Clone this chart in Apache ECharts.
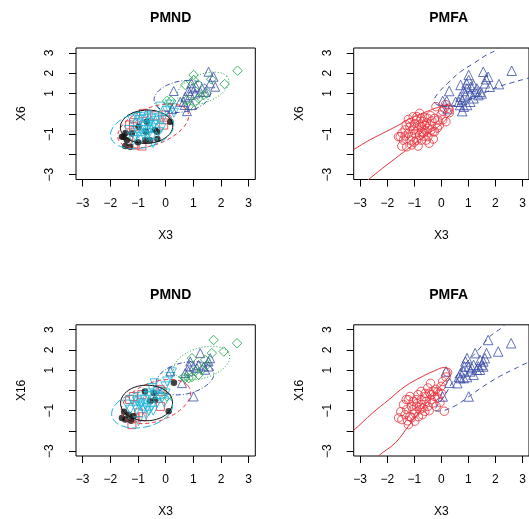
<!DOCTYPE html>
<html><head><meta charset="utf-8">
<script src="https://cdn.jsdelivr.net/npm/echarts@6/dist/echarts.min.js"></script>
<style>html,body{margin:0;padding:0;background:#fff}#c{width:529px;height:519px}</style>
</head><body><div id="c"></div>
<script>
// ---------- tick labels ----------
const tickValues = [-3, -2, -1, 0, 1, 2, 3];
const yLabelValues = [3, 2, 1, -1, -3];
const panelTitles = ['PMND', 'PMFA', 'PMND', 'PMFA'];
const xNames = ['X3', 'X3', 'X3', 'X3'];
const yNames = ['X6', 'X6', 'X16', 'X16'];

// ---------- top row data: X3 vs X6 ----------
const topPts = [
 [-1.22,-0.28],[-0.80,0.02],[-0.50,-0.23],[-0.25,-0.23],[0.05,0.13],[0.11,0.27],[0.25,0.27],[-0.01,-0.06],[0.17,-0.39],[-0.13,-0.31],
 [-0.43,-0.56],[-0.61,-0.80],[-0.38,-0.80],[-0.74,-0.64],[-0.98,-0.64],[-1.16,-0.64],[-1.34,-0.80],[-1.52,-1.13],[-1.40,-1.30],[-1.46,-1.59],
 [-1.28,-1.63],[-1.10,-1.54],[-0.86,-1.59],[-0.74,-1.30],[-0.50,-1.13],[-0.31,-0.89],[-0.98,-0.97],[-1.10,-1.13],[-1.22,-0.97],[-0.86,-0.80],
 [-0.68,-0.39],[-0.92,-0.31],[-1.04,-0.15],[-1.16,-0.44],[-0.61,-0.18],[-0.07,-0.56],[-0.25,-0.89],[-0.56,-1.30],[-0.80,-1.05],[-1.34,-1.10],
 [-1.58,-1.13],[-1.04,-0.80],[-0.80,-0.56],[-0.61,-0.56],[-0.50,-0.72],[-0.98,-0.48],[-0.72,-0.89],[-0.92,-1.30],[-1.16,-1.30],[-0.20,0.35],
 [0.15,0.45],[-0.40,-0.10],[-0.30,-1.25],[-0.65,-1.10],
 [0.29,1.12],[0.05,0.63],[0.20,0.63],[0.23,0.23],[0.71,1.42],[0.83,1.12],[1.01,1.91],[1.01,1.66],[0.95,1.25],[0.89,0.92],
 [0.77,0.68],[0.65,0.59],[0.77,0.13],[1.07,1.00],[1.19,1.42],[1.25,1.08],[1.37,0.92],[1.43,1.08],[1.55,2.07],[1.65,1.70],
 [1.61,1.50],[1.73,1.82],[1.79,1.33],[2.13,1.46],[2.60,2.12],[1.19,0.76],[1.07,0.59],[0.95,0.43],[0.83,0.35],[0.53,0.59],
 [0.71,0.84],[1.31,1.25],[1.49,1.00],[1.09,1.33],[0.93,1.50],[0.69,0.43],
 [-0.90,-0.15],[-0.55,-0.45],[-0.35,-0.35],[-1.30,-0.55],[-1.45,-0.95],[-0.15,-0.70],[0.05,-0.30],[-0.65,-0.95],[-1.00,-1.40],[-0.45,-1.45],
 [-0.75,-0.25],[0.30,0.05]
];
const topND = [
 2,0,2,2,2,2,2,0,1,2, 2,2,1,2,1,0,2,1,1,1, 1,0,0,1,2,1,2,2,1,2, 1,2,2,0,2,0,2,1,2,0, 1,2,0,2,2,2,1,2,2,2, 2,0,1,2,
 3,4,4,3,4,3,4,4,3,3, 4,3,3,3,4,3,4,3,3,4, 3,3,3,4,4,4,4,3,4,3, 3,3,4,3,3,3,
 2,2,2,0,1,2,0,2,1,2, 2,2
];
const topFA = [
 0,0,0,0,0,0,0,0,0,0, 0,0,0,0,0,0,0,0,0,0, 0,0,0,0,0,0,0,0,0,0, 0,0,0,0,0,0,0,0,0,0, 0,0,0,0,0,0,0,0,0,0, 0,0,0,0,
 1,1,1,1,1,1,1,1,1,1, 1,1,1,1,1,1,1,1,1,1, 1,1,1,1,1,1,1,1,1,1, 1,1,1,1,1,1,
 0,0,0,0,0,0,0,0,0,0, 0,0
];

// ---------- bottom row data: X3 vs X16 ----------
const botPts = [
 [-1.58,-1.36],[-1.46,-1.44],[-1.22,-1.69],[-1.16,-1.28],[-0.98,-1.52],[-1.28,-0.95],[-1.22,-0.46],[-1.10,-0.79],[-0.92,-0.46],[-0.86,-0.21],
 [-0.74,-0.46],[-0.61,-0.30],[-0.50,0.12],[-0.43,-0.13],[-0.38,-0.46],[-0.25,-0.30],[-0.13,-0.05],[-0.01,0.20],[0.05,0.44],[0.17,0.66],
 [0.23,0.89],[0.11,-1.03],[-0.80,-0.95],[-0.61,-1.03],[-0.50,-0.79],[-0.98,-1.11],[-1.40,-0.70],[-0.74,-0.70],[-0.92,-0.79],[-0.56,-0.54],
 [-0.31,-0.62],[-0.13,-0.37],[-1.04,-0.54],[-1.16,-0.30],[-0.68,-0.87],[-0.38,-0.21],[-0.19,-0.79],[-1.34,-1.20],[-1.10,-1.36],[-0.75,-0.05],
 [-0.45,-1.00],[-0.85,-1.30],
 [0.17,0.94],[0.30,0.38],[0.05,-0.30],[0.59,0.36],[0.71,0.61],[0.83,0.94],[0.89,1.43],[0.95,1.59],[1.01,1.18],[1.07,0.94],
 [1.19,0.77],[1.25,1.84],[1.37,1.18],[1.49,1.26],[1.55,1.43],[1.61,1.59],[1.67,1.84],[1.73,2.49],[2.10,1.92],[2.58,2.33],
 [1.01,-0.30],[0.83,0.61],[0.95,0.66],[1.13,1.10],[1.31,1.02],[1.43,1.02],[1.55,1.18],[0.85,1.18],[0.71,0.86],[0.65,0.66],
 [1.19,1.26],[1.43,1.51],
 [-0.90,-0.65],[-0.60,-0.15],[-0.30,-0.05],[-1.30,-0.45],[-1.50,-1.05],[-0.20,0.05],[-0.05,-0.60],[-0.70,-1.20],[-1.05,-0.95],[-0.40,0.35],
 [0.00,-0.15],[-1.25,-1.50]
];
const botND = [
 1,1,0,1,2,2,2,2,2,0, 2,2,2,1,1,2,0,2,2,2, 2,1,2,2,2,0,2,2,2,1, 2,2,2,0,2,2,0,1,0,1, 2,0,
 3,1,4,3,4,3,3,4,3,4, 4,3,3,4,3,3,4,4,4,4, 3,4,4,3,4,3,3,3,3,4, 3,4,
 2,2,2,0,1,0,2,2,2,2, 2,1
];
const botFA = [
 0,0,0,0,0,0,0,0,0,0, 0,0,0,0,0,0,0,0,0,0, 0,0,0,0,0,0,0,0,0,0, 0,0,0,0,0,0,0,0,0,0, 0,0,
 1,1,1,1,1,1,1,1,1,1, 1,1,1,1,1,1,1,1,1,1, 1,1,1,1,1,1,1,1,1,1, 1,1,
 0,0,0,0,0,0,0,0,0,0, 0,0
];

// ---------- PMND ellipses [cx, cy, semi-a, semi-b, angle deg], one per group ----------
const topEllipses = [
 [-0.45,-0.60,1.45,0.85,35],
 [-0.69,-0.64,0.95,0.82,8],
 [-0.85,-0.80,1.20,0.85,25],
 [0.60,0.85,1.05,0.75,20],
 [1.35,1.25,1.05,0.65,35]
];
const botEllipses = [
 [-0.35,-0.55,1.40,0.90,35],
 [-0.69,-0.62,0.94,0.88,5],
 [-0.85,-0.95,1.15,0.85,25],
 [0.70,0.60,1.10,0.75,25],
 [1.30,1.35,1.10,0.72,30]
];

// ---------- PMFA contour curves ----------
const topRedCurve = [[-3.4,-1.86],[-3.24,-1.76],[-2.66,-1.30],[-2.06,-0.89],[-1.58,-0.56],[-1.22,-0.28],[-0.86,-0.06],[-0.50,0.13],[-0.13,0.31],[0.17,0.41],[0.35,0.39],[0.44,0.22],[0.25,-0.15],[-0.01,-0.52],[-0.38,-0.89],[-0.74,-1.21],[-1.22,-1.71],[-1.70,-2.20],[-2.18,-2.69],[-2.72,-3.27],[-2.8,-3.35]];
const topBlueCurve = [[2.2,3.4],[2.03,3.14],[1.67,2.90],[1.19,2.48],[0.71,2.07],[0.23,1.50],[-0.13,1.00],[-0.27,0.62],[-0.15,0.45],[0.20,0.35],[0.70,0.50],[1.20,0.80],[1.67,1.08],[2.10,1.33],[2.58,1.52],[3.0,1.68],[3.4,1.82]];
const botRedCurve = [[-3.4,-2.1],[-3.24,-1.97],[-2.54,-1.11],[-1.94,-0.46],[-1.34,0.20],[-0.74,0.66],[-0.25,0.97],[0.11,1.13],[0.29,1.02],[0.32,0.80],[0.11,0.44],[-0.25,-0.13],[-0.74,-0.95],[-1.22,-1.77],[-1.70,-2.59],[-2.30,-3.21],[-2.35,-3.35]];
const botBlueCurve = [[2.4,3.4],[2.28,3.15],[1.79,2.66],[1.37,2.00],[0.95,1.40],[0.50,0.60],[0.10,-0.30],[-0.20,-0.85],[-0.25,-1.03],[0.05,-1.00],[0.47,-0.79],[0.95,-0.37],[1.55,0.20],[2.15,0.69],[2.64,1.02],[3.0,1.26],[3.4,1.5]];

// ---------- styles ----------
const RED = '#E8323C', BLUE = '#3B4FA8', GREEN = '#17A444', CYAN = '#1BB3D6', BLACK = '#111';
const FONT = 'Liberation Sans, Arial, Helvetica, sans-serif';
const ndStyles = [
 {symbol:'rect', color:RED, size:8, fill:false, line:[4,3]},
 {symbol:'circle', color:BLACK, size:6.5, fill:true, line:'solid'},
 {symbol:'triangle', rotate:180, color:CYAN, size:9, fill:false, line:[8,3]},
 {symbol:'triangle', color:BLUE, size:9, fill:false, line:[1,2,5,2]},
 {symbol:'diamond', color:GREEN, size:9.5, fill:false, line:[1,2]}
];
const faStyles = [
 {symbol:'circle', color:RED, size:8.5, fill:false},
 {symbol:'triangle', color:BLUE, size:9.5, fill:false}
];
const gridBoxes = [
 {left:76, top:48, width:179.3, height:131.5},
 {left:353.7, top:48, width:179.3, height:131.5},
 {left:76, top:324.8, width:179.3, height:131.8},
 {left:353.7, top:324.8, width:179.3, height:131.8}
];
const titleCenters = [165.7, 443.7, 165.7, 443.7];

const fmt = v => (v < 0 ? '\u2212' + Math.abs(v) : String(v));

function ellipsePts(e) {
  const [cx, cy, a, b, d] = e;
  const r = d * Math.PI / 180, out = [];
  for (let k = 0; k <= 90; k++) {
    const t = k / 90 * 2 * Math.PI;
    out.push([cx + a*Math.cos(t)*Math.cos(r) - b*Math.sin(t)*Math.sin(r),
              cy + a*Math.cos(t)*Math.sin(r) + b*Math.sin(t)*Math.cos(r)]);
  }
  return out;
}
function pick(pts, grp, g) { return pts.filter((p, i) => grp[i] === g); }

const grid = [], xAxis = [], yAxis = [], series = [], title = [];
gridBoxes.forEach((b, i) => {
  grid.push(Object.assign({show:true, borderColor:'#000', borderWidth:1, backgroundColor:'transparent'}, b));
  xAxis.push({
    gridIndex:i, type:'value', min:-3.24, max:3.24, position:'bottom',
    axisLine:{show:false, onZero:false}, splitLine:{show:false},
    axisTick:{show:true, length:7, customValues:tickValues, lineStyle:{color:'#000', width:1}},
    axisLabel:{customValues:tickValues, formatter:fmt, color:'#000', fontSize:12, fontFamily:FONT, margin:18},
    name:xNames[i], nameLocation:'middle', nameGap:50,
    nameTextStyle:{color:'#000', fontSize:12, fontFamily:FONT}
  });
  yAxis.push({
    gridIndex:i, type:'value', min:-3.24, max:3.24, position:'left',
    axisLine:{show:false, onZero:false}, splitLine:{show:false},
    axisTick:{show:true, length:7, customValues:tickValues, lineStyle:{color:'#000', width:1}},
    axisLabel:{customValues:yLabelValues, formatter:fmt, color:'#000', fontSize:12, fontFamily:FONT, margin:20, rotate:90},
    name:yNames[i], nameLocation:'middle', nameGap:48, nameRotate:90,
    nameTextStyle:{color:'#000', fontSize:12, fontFamily:FONT}
  });
  title.push({
    text:panelTitles[i], left:titleCenters[i], top:b.top - 42, textAlign:'center',
    textStyle:{fontSize:14, fontWeight:'bold', color:'#000', fontFamily:FONT}
  });
});

function scatterSeries(gi, pts, grp, styles) {
  styles.forEach((s, g) => {
    series.push({
      type:'scatter', xAxisIndex:gi, yAxisIndex:gi, silent:true, animation:false,
      symbol:s.symbol, symbolRotate:s.rotate || 0, symbolSize:s.size,
      itemStyle: s.fill ? {color:s.color} : {color:'rgba(0,0,0,0)', borderColor:s.color, borderWidth:1},
      data: pick(pts, grp, g), z:2
    });
  });
}
function lineSeries(gi, data, color, type, smooth) {
  series.push({
    type:'line', xAxisIndex:gi, yAxisIndex:gi, silent:true, animation:false,
    showSymbol:false, symbol:'none', smooth:smooth || false, clip:true,
    lineStyle:{color:color, width:1, type:type}, data:data, z:3
  });
}

// Panel 1: PMND top
scatterSeries(0, topPts, topND, ndStyles);
topEllipses.forEach((e, g) => lineSeries(0, ellipsePts(e), ndStyles[g].color, ndStyles[g].line));
// Panel 2: PMFA top
scatterSeries(1, topPts, topFA, faStyles);
lineSeries(1, topRedCurve, RED, 'solid', 0.4);
lineSeries(1, topBlueCurve, BLUE, [5,4], 0.4);
// Panel 3: PMND bottom
scatterSeries(2, botPts, botND, ndStyles);
botEllipses.forEach((e, g) => lineSeries(2, ellipsePts(e), ndStyles[g].color, ndStyles[g].line));
// Panel 4: PMFA bottom
scatterSeries(3, botPts, botFA, faStyles);
lineSeries(3, botRedCurve, RED, 'solid', 0.4);
lineSeries(3, botBlueCurve, BLUE, [5,4], 0.4);

const chart = echarts.init(document.getElementById('c'), null, {renderer:'canvas'});
chart.setOption({backgroundColor:'#fff', animation:false, title, grid, xAxis, yAxis, series});
</script></body></html>
